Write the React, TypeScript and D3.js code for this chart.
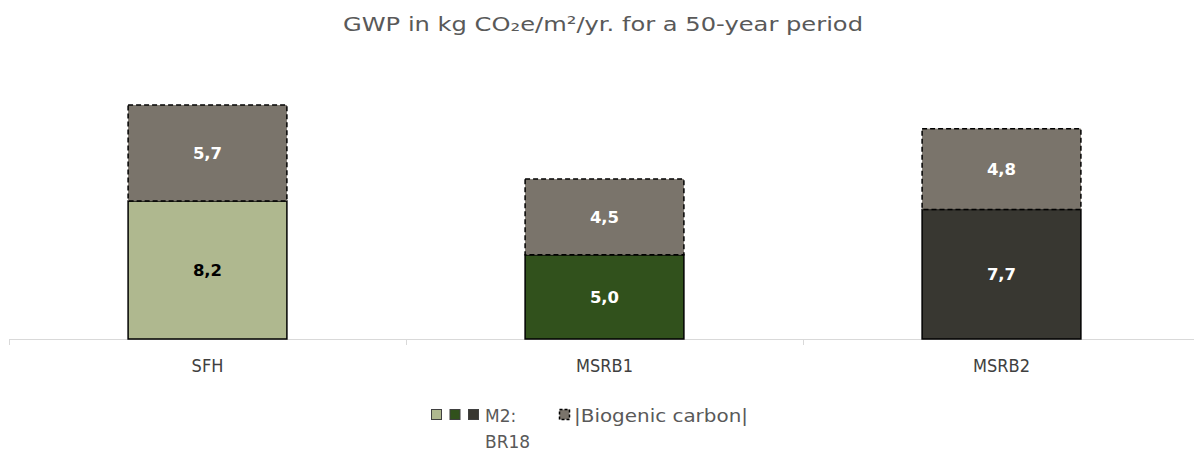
import React from "react";
import * as d3 from "d3";

const categories = ["SFH", "MSRB1", "MSRB2"];
const baseValues = [8.2, 5.0, 7.7];
const biogenicValues = [5.7, 4.5, 4.8];
const baseColors = ["#AFB88F", "#31511C", "#383731"];
const baseLabelColors = ["#000000", "#FFFFFF", "#FFFFFF"];
const biogenicColor = "#7A746B";
const title = "GWP in kg CO₂e/m²/yr. for a 50-year period";

const W = 1194;
const H = 452;
const plotLeft = 9;
const plotRight = 1200;
const baseY = 339;
const pxPerUnit = 16.83;

export default function App() {
  const x = d3.scaleBand<string>().domain(categories).range([plotLeft, plotRight]).paddingInner(0).paddingOuter(0);
  const bw = x.bandwidth() * 0.4;
  const yS = d3.scaleLinear().domain([0, 1]).range([baseY, baseY - pxPerUnit]);
  const font = "'DejaVu Sans', sans-serif";
  const ticks = categories.map((c) => x(c)!).concat([plotRight]);
  return (
    <svg width={W} height={H} style={{ position: "absolute", left: 0, top: 0, background: "#fff" }}>
      <text x={603} y={31} textAnchor="middle" fontFamily={font} fontSize={20} fill="#595959" textLength={520} lengthAdjust="spacingAndGlyphs">
        {title}
      </text>
      {/* axis */}
      <line x1={plotLeft} x2={W} y1={baseY + 0.5} y2={baseY + 0.5} stroke="#D9D9D9" strokeWidth={1} />
      {ticks.map((t, i) => (
        <line key={i} x1={Math.round(t) + 0.5} x2={Math.round(t) + 0.5} y1={baseY} y2={baseY + 6} stroke="#D9D9D9" />
      ))}
      {categories.map((c, i) => {
        const cx = x(c)! + x.bandwidth() / 2;
        const x0 = cx - bw / 2;
        const b0 = yS(0);
        const b1 = yS(baseValues[i]);
        const b2 = yS(baseValues[i] + biogenicValues[i]);
        return (
          <g key={c}>
            <rect x={x0} y={b1} width={bw} height={b0 - b1} fill={baseColors[i]} stroke="#000" strokeWidth={1.5} />
            <rect x={x0} y={b2} width={bw} height={b1 - b2} fill={biogenicColor} stroke="#000" strokeWidth={1.5} strokeDasharray="5,3" />
            <text x={cx} y={(b0 + b1) / 2 + 6} textAnchor="middle" fontFamily={font} fontWeight="bold" fontSize={16.5} fill={baseLabelColors[i]}>
              {baseValues[i].toFixed(1).replace(".", ",")}
            </text>
            <text x={cx} y={(b1 + b2) / 2 + 6} textAnchor="middle" fontFamily={font} fontWeight="bold" fontSize={16.5} fill="#FFFFFF">
              {biogenicValues[i].toFixed(1).replace(".", ",")}
            </text>
            <text x={cx} y={372} textAnchor="middle" fontFamily="'Liberation Sans Narrow', 'DejaVu Sans Condensed', sans-serif" fontSize={18} fill="#404040">
              {c}
            </text>
          </g>
        );
      })}
      {/* legend */}
      {baseColors.map((col, i) => (
        <rect key={i} x={431.5 + i * 18.5} y={409.5} width={10} height={10} fill={col} stroke="#404040" strokeWidth={1} />
      ))}
      <text x={485} y={422} fontFamily={font} fontSize={17} fill="#595959">M2:</text>
      <text x={485} y={448} fontFamily={font} fontSize={17} fill="#595959">BR18</text>
      <rect x={559.5} y={409.5} width={10} height={10} fill={biogenicColor} stroke="#000" strokeWidth={1.5} strokeDasharray="3,2" />
      <text x={574} y={422} fontFamily={font} fontSize={17} fill="#595959" textLength={174} lengthAdjust="spacingAndGlyphs">|Biogenic carbon|</text>
    </svg>
  );
}
